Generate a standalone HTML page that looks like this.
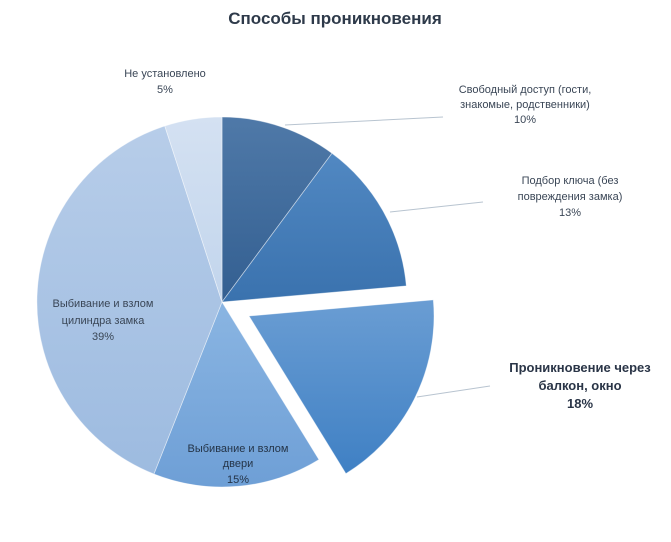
<!DOCTYPE html>
<html><head><meta charset="utf-8"><style>body{margin:0;background:#fff}svg{display:block}</style></head><body>
<svg width="671" height="542" viewBox="0 0 671 542" xmlns="http://www.w3.org/2000/svg" font-family="Liberation Sans, DejaVu Sans, sans-serif">
<defs>
<linearGradient id="g1" x1="0" y1="0" x2="0" y2="1"><stop offset="0" stop-color="#4f79a8"/><stop offset="1" stop-color="#335f91"/></linearGradient>
<linearGradient id="g2" x1="0" y1="0" x2="0" y2="1"><stop offset="0" stop-color="#5188c2"/><stop offset="1" stop-color="#3a72ae"/></linearGradient>
<linearGradient id="g3" x1="0" y1="0" x2="0" y2="1"><stop offset="0" stop-color="#6a9dd3"/><stop offset="1" stop-color="#3f80c4"/></linearGradient>
<linearGradient id="g4" x1="0" y1="0" x2="0" y2="1"><stop offset="0" stop-color="#8ab5e2"/><stop offset="1" stop-color="#6e9fd6"/></linearGradient>
<linearGradient id="g5" x1="0" y1="0" x2="0" y2="1"><stop offset="0" stop-color="#b7cde9"/><stop offset="1" stop-color="#9dbbe0"/></linearGradient>
<linearGradient id="g6" x1="0" y1="0" x2="0" y2="1"><stop offset="0" stop-color="#d4e1f2"/><stop offset="1" stop-color="#c2d5ec"/></linearGradient>
</defs>
<text x="335" y="24" text-anchor="middle" font-size="17" font-weight="bold" fill="#2e3a4a">Способы проникновения</text>
<g stroke="#ffffff" stroke-width="0.8" stroke-opacity="0.5">
<path d="M222,302 L222,117 A185,185 0 0 1 332,153.3 Z" fill="url(#g1)"/>
<path d="M222,302 L332,153.3 A185,185 0 0 1 406.3,285.9 Z" fill="url(#g2)"/>
<path d="M249,316 L433.3,299.9 A185,185 0 0 1 345.9,473.6 Z" fill="url(#g3)"/>
<path d="M222,302 L318.9,459.6 A185,185 0 0 1 153.9,474 Z" fill="url(#g4)"/>
<path d="M222,302 L153.9,474 A185,185 0 0 1 164.8,126 Z" fill="url(#g5)"/>
<path d="M222,302 L164.8,126 A185,185 0 0 1 222,117 Z" fill="url(#g6)"/>
</g>
<g stroke="#b8c4d0" stroke-width="1">
<line x1="285" y1="125" x2="443" y2="117"/>
<line x1="390" y1="212" x2="483" y2="202"/>
<line x1="417" y1="397" x2="490" y2="386"/>
</g>
<g font-size="11" fill="#3a4656" text-anchor="middle">
<text x="525" y="93">Свободный доступ (гости,</text>
<text x="525" y="108">знакомые, родственники)</text>
<text x="525" y="123">10%</text>
<text x="570" y="184">Подбор ключа (без</text>
<text x="570" y="200">повреждения замка)</text>
<text x="570" y="216">13%</text>
<text x="165" y="77">Не установлено</text>
<text x="165" y="93">5%</text>
<text x="103" y="307">Выбивание и взлом</text>
<text x="103" y="324">цилиндра замка</text>
<text x="103" y="340">39%</text>
<text x="238" y="452" fill="#243448">Выбивание и взлом</text>
<text x="238" y="467" fill="#243448">двери</text>
<text x="238" y="483" fill="#243448">15%</text>
</g>
<g font-size="13" font-weight="bold" fill="#2a3547" text-anchor="middle">
<text x="580" y="372">Проникновение через</text>
<text x="580" y="390">балкон, окно</text>
<text x="580" y="408">18%</text>
</g>
</svg>
</body></html>
